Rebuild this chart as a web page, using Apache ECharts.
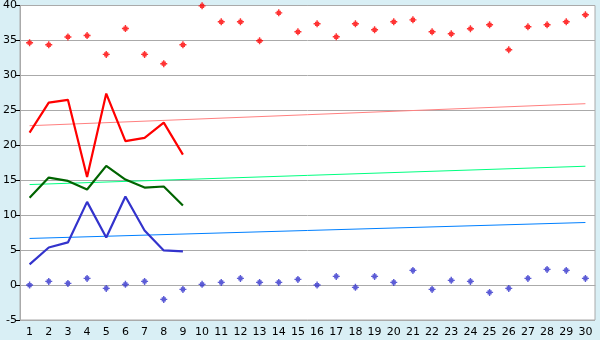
<!DOCTYPE html>
<html><head><meta charset="utf-8">
<script src="https://cdn.jsdelivr.net/npm/echarts@6/dist/echarts.min.js"></script>
<style>html,body{margin:0;padding:0;background:#d9eff5;}#c{width:600px;height:340px;}</style>
</head><body><div id="c"></div>
<script>
const categories = ['1','2','3','4','5','6','7','8','9','10','11','12','13','14','15','16','17','18','19','20','21','22','23','24','25','26','27','28','29','30'];
const yTicks = [-5, 0, 5, 10, 15, 20, 25, 30, 35, 40];
const redPoints = [34.67,34.38,35.5,35.7,33.0,36.7,33.0,31.67,34.38,39.95,37.67,37.67,34.95,38.95,36.24,37.38,35.52,37.38,36.52,37.67,37.95,36.24,35.95,36.67,37.24,33.67,36.95,37.24,37.67,38.67];
const bluePoints = [0,0.52,0.24,0.95,-0.48,0.1,0.52,-2.05,-0.62,0.1,0.38,0.95,0.38,0.38,0.81,0,1.24,-0.33,1.24,0.38,2.1,-0.62,0.67,0.52,-1.05,-0.48,0.95,2.24,2.1,0.95];
const redLine = [21.8,26.1,26.5,15.47,27.4,20.6,21.05,23.24,18.67];
const greenLine = [12.5,15.38,14.9,13.67,17.05,15.1,13.95,14.1,11.38];
const blueLine = [2.95,5.38,6.1,11.9,6.81,12.67,7.81,4.95,4.81];
const redTrend = [22.8, 25.95];
const greenTrend = [14.38, 17.0];
const blueTrend = [6.67, 8.95];

function ends(pair){ const a = categories.map(()=>null); a[0]=pair[0]; a[a.length-1]=pair[1]; return a; }
const marker = 'path://M2,0H3V1H4V2H5V3H4V4H3V5H2V4H1V3H0V2H1V1H2Z';
const chart = echarts.init(document.getElementById('c'), null, {renderer:'canvas'});
const trend = (d,c)=>({type:'line',data:ends(d),connectNulls:true,symbol:'none',lineStyle:{color:c,width:1},silent:true,animation:false,z:2});
const main = (d,c)=>({type:'line',data:d,symbol:'none',lineStyle:{color:c,width:2.2},animation:false,z:3});
const pts = (d,c)=>({type:'scatter',data:d,symbol:marker,symbolSize:7,itemStyle:{color:c},animation:false,z:4});
chart.setOption({
  backgroundColor:'#d9eff5',
  textStyle:{fontFamily:'DejaVu Sans'},
  grid:{left:20,right:5,top:5,bottom:20,show:true,backgroundColor:'#ffffff',borderColor:'#aaaaaa',borderWidth:1},
  xAxis:{type:'category',data:categories,boundaryGap:true,
    axisLine:{lineStyle:{color:'#aaaaaa'}},
    axisTick:{alignWithLabel:true,length:5,lineStyle:{color:'#000'}},
    axisLabel:{color:'#000',fontSize:11,margin:7,interval:0},
    splitLine:{show:false}},
  yAxis:{type:'value',min:yTicks[0],max:yTicks[yTicks.length-1],interval:5,
    axisLine:{show:true,lineStyle:{color:'#aaaaaa'}},
    axisTick:{show:true,length:4,lineStyle:{color:'#000'}},
    axisLabel:{color:'#000',fontSize:11,margin:3},
    splitLine:{lineStyle:{color:'#aaaaaa',width:1}}},
  series:[
    trend(redTrend,'#ff8080'),
    trend(greenTrend,'#00ff80'),
    trend(blueTrend,'#0080ff'),
    main(redLine,'#ff0000'),
    main(greenLine,'#006400'),
    main(blueLine,'#3333cc'),
    pts(redPoints,'#ff0000'),
    pts(bluePoints,'#3333cc')
  ]
});
</script></body></html>
